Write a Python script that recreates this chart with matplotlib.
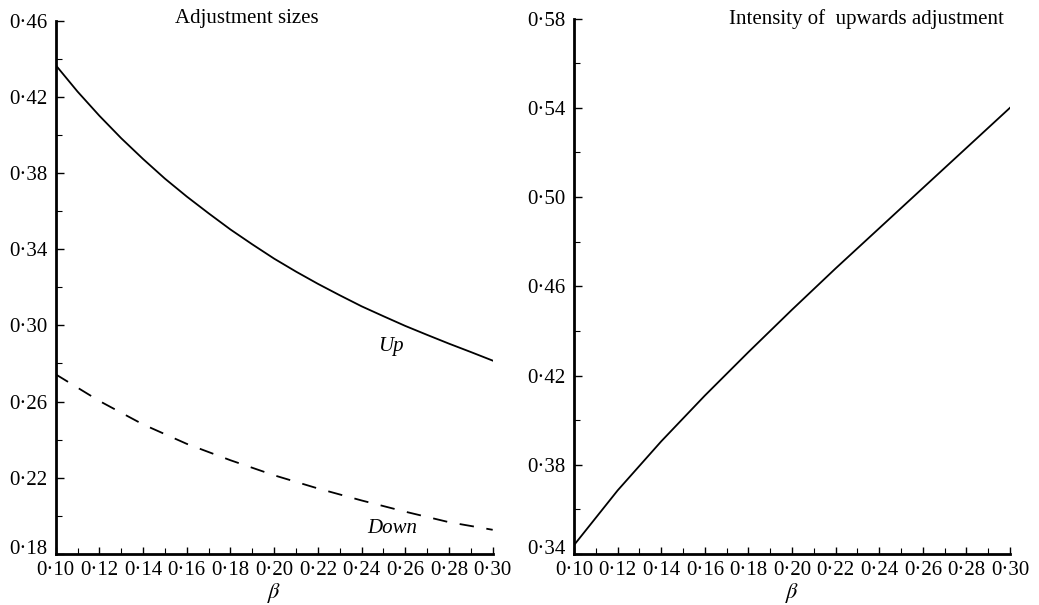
import matplotlib.pyplot as plt
from matplotlib.ticker import MultipleLocator, FuncFormatter

plt.rcParams['font.family'] = 'Liberation Serif'
plt.rcParams['mathtext.fontset'] = 'stix'

#--------------- data -------------------------------------#
beta = [0.10, 0.12, 0.14, 0.16, 0.18, 0.20, 0.22, 0.24, 0.26, 0.28, 0.30]
beta_fine = [0.10, 0.11, 0.12, 0.13, 0.14, 0.15, 0.16, 0.17, 0.18, 0.19, 0.20,
             0.21, 0.22, 0.23, 0.24, 0.25, 0.26, 0.27, 0.28, 0.29, 0.30]

# upward adjustment size (solid), read every 0.01
up = [0.4366, 0.4227, 0.4100, 0.3982, 0.3873, 0.3770, 0.3676, 0.3588, 0.3503, 0.3425, 0.3350,
      0.3282, 0.3218, 0.3158, 0.3100, 0.3048, 0.2997, 0.2950, 0.2904, 0.2860, 0.2815]
# downward adjustment size (dashed)
down = [0.2743, 0.2603, 0.2480, 0.2378, 0.2292, 0.2213, 0.2144, 0.2081, 0.2022, 0.1967, 0.1927]
# intensity of upwards adjustment
intensity = [0.344, 0.3685, 0.3905, 0.411, 0.4305, 0.4495, 0.468, 0.486, 0.504, 0.522, 0.540]

xticks = [0.10, 0.12, 0.14, 0.16, 0.18, 0.20, 0.22, 0.24, 0.26, 0.28, 0.30]
yticks_left = [0.18, 0.22, 0.26, 0.30, 0.34, 0.38, 0.42, 0.46]
yticks_right = [0.34, 0.38, 0.42, 0.46, 0.50, 0.54, 0.58]

#--------------- writing plots -----------------#
fig = plt.figure(figsize=(10.39, 6.05), dpi=100)
ax1 = fig.add_axes([0.0536, 0.0843, 0.4206, 0.8818])
ax2 = fig.add_axes([0.5525, 0.0843, 0.4196, 0.8851])

dot = FuncFormatter(lambda v, p: ('%.2f' % v).replace('.', '\u00b7'))

for ax in (ax1, ax2):
    for s in ('top', 'right'):
        ax.spines[s].set_visible(False)
    for s in ('left', 'bottom'):
        ax.spines[s].set_linewidth(2.0)
    ax.set_xlim(0.10, 0.30)
    ax.set_xticks(xticks)
    ax.xaxis.set_minor_locator(MultipleLocator(0.01))
    ax.yaxis.set_minor_locator(MultipleLocator(0.02))
    ax.xaxis.set_major_formatter(dot)
    ax.yaxis.set_major_formatter(dot)
    ax.tick_params(which='major', direction='in', length=6, width=1.0, labelsize=15, pad=6)
    ax.tick_params(which='minor', direction='in', length=4, width=0.8)
    ax.tick_params(axis='x', which='major', length=5, pad=5)
    ax.set_xlabel(r'$\beta$', fontsize=16, labelpad=1)

# left panel
ax1.set_ylim(0.18, 0.46)
ax1.set_yticks(yticks_left)
ax1.plot(beta_fine, up, color='k', lw=1.3)
ax1.plot(beta, down, color='k', lw=1.3, dashes=(8, 7))
ax1.text(0.2535, 0.2891, 'Up', style='italic', fontsize=15, ha='center', va='center')
ax1.text(0.2539, 0.1936, 'Down', style='italic', fontsize=15, ha='center', va='center')

# right panel
ax2.set_ylim(0.34, 0.58)
ax2.set_yticks(yticks_right)
ax2.plot(beta, intensity, color='k', lw=1.3)

# the lowest y label sits a little above its tick, clear of the x labels
for ax in (ax1, ax2):
    ax.get_yticklabels()[0].set_va('baseline')

fig.text(246.7 / 1039, 1 - 19 / 605, 'Adjustment sizes', fontsize=15, ha='center', va='center')
fig.text(866 / 1039, 1 - 19 / 605, 'Intensity of  upwards adjustment', fontsize=15, ha='center', va='center')

fig.savefig('out.png', dpi=100)
